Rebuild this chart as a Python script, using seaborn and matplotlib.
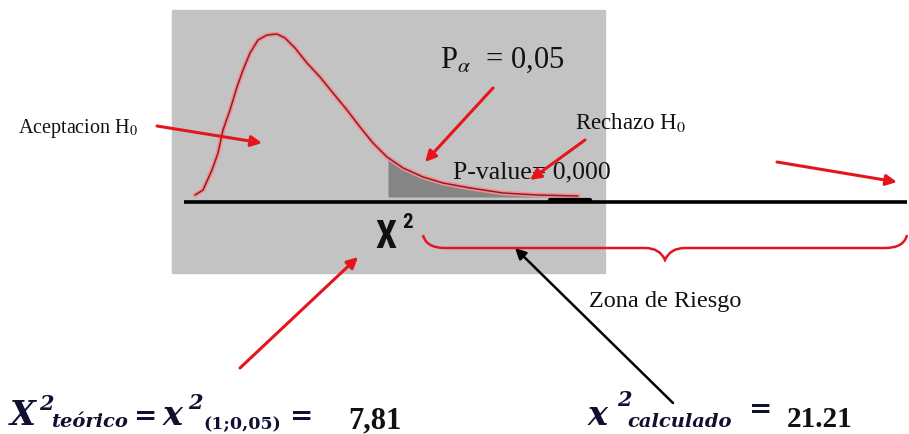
import matplotlib
matplotlib.use("Agg")
import matplotlib.pyplot as plt
import matplotlib.font_manager as fm
import seaborn as sns
import numpy as np
import pandas as pd
from matplotlib.patches import Rectangle, PathPatch
from matplotlib.path import Path

# ---- data (curve, pixel space) ----
curve_x = [195, 203, 212, 218, 223, 230, 237, 243, 250, 258, 267, 277, 285, 295,
           307, 320, 333, 347, 360, 373, 387, 403, 423, 443, 470, 503, 537, 578]
curve_y = [195, 190, 170, 153, 130, 110, 87, 70, 53, 40, 35, 34, 38, 48,
           63, 77, 93, 110, 127, 143, 157, 168, 177, 183, 188, 193, 195, 196]
critical_x = 388          # start of rejection area (alpha = 0.05)
label_alpha = "0,05"
label_pvalue = "0,000"
chi_teorico = "7,81"
chi_calculado = "21.21"

df = pd.DataFrame({"x": curve_x, "y": curve_y})

sns.set_theme(style="white")
plt.rcParams["font.family"] = ["Liberation Serif", "DejaVu Serif"]
plt.rcParams["mathtext.fontset"] = "stix"

# pick a condensed family for the big X^2 label if one is installed
names = {f.name for f in fm.fontManager.ttflist}
cond_stretch = {f.name for f in fm.fontManager.ttflist
                if str(f.stretch) in ("condensed", "semi-condensed", "75", "87.5")}
narrow = None
for n in ["Liberation Sans Narrow", "DejaVu Sans Condensed", "Roboto Condensed",
          "Open Sans Condensed", "Noto Sans Condensed"]:
    if n in names:
        narrow = dict(family=[n, "DejaVu Sans"])
        break
if narrow is None and "DejaVu Sans" in cond_stretch:
    narrow = dict(family=["DejaVu Sans"], fontstretch="condensed")
if narrow is None:
    narrow = dict(family=["DejaVu Sans"])
    xsize, ssize = 22, 14
else:
    xsize, ssize = 27, 15

fig = plt.figure(figsize=(9.09, 4.34), dpi=100)
ax = fig.add_axes([0, 0, 1, 1])

# gray panel
ax.add_patch(Rectangle((172, 10), 433, 263, color="#c3c3c3", zorder=0))

# shaded rejection area
xs = np.array(curve_x, dtype=float)
ys = np.array(curve_y, dtype=float)
mask = xs >= critical_x
fx = np.concatenate([[critical_x], xs[mask]])
fy = np.concatenate([[np.interp(critical_x, xs, ys)], ys[mask]])
ax.fill_between(fx, fy, 197, color="#858585", zorder=1, lw=0)

# curve
sns.lineplot(data=df, x="x", y="y", ax=ax, color="#f29090", lw=3.4, zorder=3, legend=False)
sns.lineplot(data=df, x="x", y="y", ax=ax, color="#8a1f2c", lw=1.1, zorder=4, legend=False)
ax.set_xlim(0, 909)
ax.set_ylim(434, 0)
ax.axis("off")

# baseline
ax.plot([184, 907], [202, 202], color="black", lw=2.6, zorder=5, solid_capstyle="butt")
ax.plot([550, 590], [200, 200], color="black", lw=3, zorder=5)

red = "#e5151d"
def arrow(x0, y0, x1, y1, color=red, lw=2.2, ms=16):
    ax.annotate("", xy=(x1, y1), xytext=(x0, y0),
                arrowprops=dict(arrowstyle="-|>", color=color, lw=lw,
                                mutation_scale=ms, shrinkA=0, shrinkB=0),
                zorder=6)

arrow(157, 126, 262, 143)
arrow(493, 88, 425, 162)
arrow(585, 140, 530, 180)
arrow(777, 162, 897, 182)
arrow(240, 368, 358, 257)
arrow(673, 403, 515, 248, color="black", lw=1.8, ms=16)

# curly brace
verts = [(423, 235), (426, 248), (445, 248),
         (645, 248), (660, 248), (665, 260),
         (670, 248), (685, 248), (885, 248),
         (904, 248), (907, 235)]
codes = [Path.MOVETO, Path.CURVE3, Path.CURVE3,
         Path.LINETO, Path.CURVE3, Path.CURVE3,
         Path.CURVE3, Path.CURVE3, Path.LINETO,
         Path.CURVE3, Path.CURVE3]
ax.add_patch(PathPatch(Path(verts, codes), fill=False, edgecolor=red, lw=1.8, zorder=6))

# texts
tc = "#111111"
ax.text(18, 129, r"Aceptacion H$_0$", fontsize=14.5, va="center", ha="left", color=tc)
ax.text(440, 60, r"P$_{\alpha}$  = " + label_alpha, fontsize=22, va="center", ha="left", color=tc)
ax.text(575, 123, r"Rechazo H$_0$", fontsize=16.5, va="center", ha="left", color=tc)
ax.text(453, 172, "P-value= " + label_pvalue, fontsize=18.5, va="center", ha="left", color=tc, zorder=5)
ax.text(375, 248, "X", fontsize=xsize, fontweight="bold", va="baseline", ha="left",
        color=tc, **narrow)
ax.text(402, 228, "2", fontsize=ssize, fontweight="bold", va="baseline", ha="left",
        color=tc, **narrow)
ax.text(665, 302, "Zona de Riesgo", fontsize=17.5, va="center", ha="center", color=tc)

fc = "#101030"
ser = ["DejaVu Serif"]
bi = dict(fontweight="bold", fontstyle="italic", color=fc, va="baseline", ha="left", family=ser)
bu = dict(fontweight="bold", color=fc, va="baseline", ha="left", family=ser)
ax.text(10, 425, "X", fontsize=24, **bi)
ax.text(39, 410, "2", fontsize=15, **bi)
ax.text(51, 427, "teórico", fontsize=14, **bi)
ax.text(134, 424, "=", fontsize=20, **bu)
ax.text(163, 425, "x", fontsize=24, **bi)
ax.text(188, 409, "2", fontsize=15, **bi)
ax.text(203, 429, "(1;0,05)", fontsize=12.5, **bu)
ax.text(290, 424, "=", fontsize=20, **bu)
ax.text(348, 428, chi_teorico, fontsize=22, fontweight="bold", color=tc, va="baseline", ha="left")

ax.text(588, 425, "x", fontsize=24, **bi)
ax.text(617, 406, "2", fontsize=15, **bi)
ax.text(627, 427, "calculado", fontsize=14, **bi)
ax.text(749, 417, "=", fontsize=20, **bu)
ax.text(787, 427, chi_calculado, fontsize=21, fontweight="bold", color=tc, va="baseline", ha="left")

fig.savefig("out.png", dpi=100, facecolor="white")
